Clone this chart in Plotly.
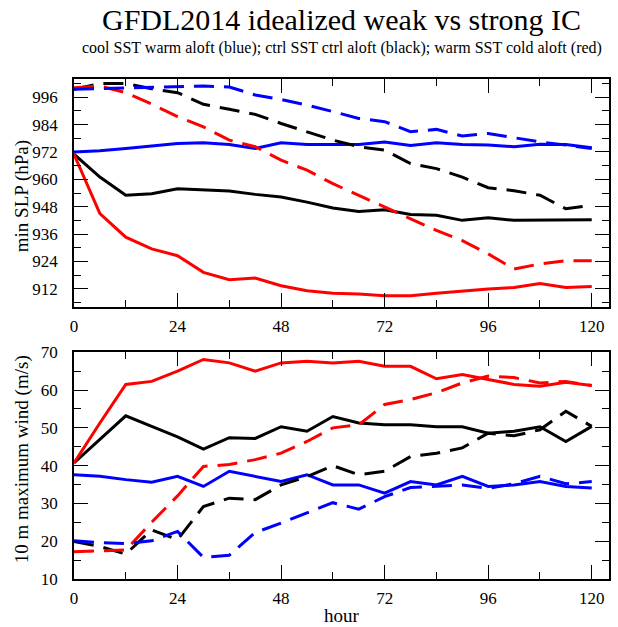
import plotly.graph_objects as go

# Forecast hour (6-hourly output)
hours = [0, 6, 12, 18, 24, 30, 36, 42, 48, 54, 60, 66, 72, 78, 84, 90, 96, 102, 108, 114, 120]

# Minimum sea-level pressure (hPa); solid = weak IC, dashed = strong IC
slp_blue_solid = [972, 972.5, 973.5, 974.6, 975.7, 976, 975.3, 973.5, 976, 975.3, 975.3,
                  975.3, 976.4, 974.8, 976, 975.3, 975, 974.3, 975.4, 975.3, 973.8]
slp_black_solid = [971, 961, 953, 953.7, 955.9, 955.5, 954.9, 953.4, 952.2, 950, 947.4,
                   945.9, 946.6, 944.6, 944.2, 942, 943.1, 942, 942, 942.3, 942.3]
slp_red_solid = [971, 945, 934.6, 929.5, 926.5, 919.2, 916, 916.7, 913.3, 911.1, 910,
                 909.7, 908.9, 908.9, 910, 911.1, 911.9, 912.6, 914.3, 912.6, 913]
slp_blue_dash = [999.5, 999.8, 1000.2, 1000.5, 1000.7, 1000.9, 1000.5, 997, 995, 992.6, 989.7,
                 986.7, 985.3, 980.9, 981.9, 979, 980.1, 978.3, 976.4, 975, 973.5]
slp_black_dash = [999.5, 1002, 1002, 999.7, 998, 992.9, 990.7, 988.5, 984.5, 980.9, 977.2,
                  974.3, 972.8, 966.9, 964.7, 961, 956.3, 955, 953, 947.1, 948.6]
slp_red_dash = [1000.2, 1000.9, 998, 993, 987.5, 983, 977.2, 974.3, 968.4, 964, 958.1,
                953, 947.8, 942.7, 937.6, 933.1, 927.3, 920.7, 922.9, 924.3, 924.3]

# 10 m maximum wind (m/s)
wind_blue_solid = [37.6, 37.2, 36.3, 35.6, 37.2, 34.5, 38.5, 37.2, 35.8, 37.6, 34.9,
                   34.9, 32.7, 35.8, 34.9, 37.2, 34.5, 34.9, 35.8, 34.5, 34.1]
wind_black_solid = [40.7, 46.9, 53.2, 50.4, 47.6, 44.4, 47.4, 47.2, 50.3, 49.1, 53,
                    51.3, 50.8, 50.8, 50.3, 50.3, 48.6, 49.1, 50.3, 46.4, 50.4]
wind_red_solid = [40.7, 51.3, 61.5, 62.3, 65, 68.1, 67.2, 65, 67.2, 67.6, 67.2,
                  67.6, 66.3, 66.3, 63, 64.1, 62.8, 61.5, 61, 62.1, 61.2]
wind_blue_dash = [20.1, 19.6, 19.4, 20.1, 22.6, 15.7, 16.3, 22.3, 24.8, 27.4, 30.2,
                  28.5, 31.8, 34.2, 34.5, 34.9, 34, 35.2, 37.2, 35.2, 35.8]
wind_black_dash = [19.9, 18.6, 16.6, 23, 20.4, 29.2, 31.4, 31, 34.9, 37.1, 40,
                   37.6, 38.5, 42.4, 43.3, 44.7, 48.6, 47.9, 49.5, 54.4, 50.4]
wind_red_dash = [17.2, 17.5, 17.7, 25, 32, 39.8, 40.3, 41.6, 43.3, 46.4, 50,
                 50.8, 56.2, 57.5, 59.3, 61.9, 63.7, 63.3, 61.9, 62.3, 61.2]

x_ticks = [0, 24, 48, 72, 96, 120]
slp_ticks = [912, 924, 936, 948, 960, 972, 984, 996]
wind_ticks = [10, 20, 30, 40, 50, 60, 70]

FONT = "Liberation Serif, Times New Roman, serif"
BLUE, BLACK, RED = "#0000ff", "#000000", "#ff0000"
DASH = "20px,10px"

fig = go.Figure()

series = [
    (slp_blue_solid, BLUE, "solid", "y"), (slp_black_solid, BLACK, "solid", "y"),
    (slp_red_solid, RED, "solid", "y"), (slp_black_dash, BLACK, DASH, "y"),
    (slp_red_dash, RED, DASH, "y"), (slp_blue_dash, BLUE, DASH, "y"),
    (wind_blue_solid, BLUE, "solid", "y2"), (wind_black_solid, BLACK, "solid", "y2"),
    (wind_red_solid, RED, "solid", "y2"), (wind_black_dash, BLACK, DASH, "y2"),
    (wind_red_dash, RED, DASH, "y2"), (wind_blue_dash, BLUE, DASH, "y2"),
]
for vals, col, dash, yax in series:
    fig.add_trace(go.Scatter(
        x=hours, y=vals, mode="lines",
        line=dict(color=col, width=3, dash=dash),
        xaxis="x" if yax == "y" else "x2", yaxis=yax, showlegend=False,
    ))

axis_common = dict(
    showgrid=False, zeroline=False, showline=True, linecolor="black", linewidth=1.6,
    mirror="ticks", ticks="inside", ticklen=14, tickwidth=1.4, tickcolor="black",
    tickfont=dict(family=FONT, size=17, color="black"),
)
minor_common = dict(ticks="inside", ticklen=7, tickwidth=1.4, tickcolor="black", showgrid=False)

xaxis_cfg = dict(axis_common, range=[0, 124], tickvals=x_ticks,
                 minor=dict(minor_common, dtick=12, tick0=0), ticklabelstandoff=3)

label_font = dict(family=FONT, size=19, color="black")

fig.update_layout(
    width=618, height=627,
    margin=dict(l=74, r=7, t=79, b=48),
    paper_bgcolor="white", plot_bgcolor="white",
    xaxis=dict(xaxis_cfg, anchor="y", domain=[0, 1]),
    yaxis=dict(axis_common, anchor="x", domain=[0.544, 1.0], range=[904, 1004],
               tickvals=slp_ticks, minor=dict(minor_common, dtick=6, tick0=0),
               ticklabelstandoff=11),
    xaxis2=dict(xaxis_cfg, anchor="y2", domain=[0, 1]),
    yaxis2=dict(axis_common, anchor="x2", domain=[0.0, 0.4534], range=[10, 70],
                tickvals=wind_ticks, minor=dict(minor_common, dtick=5, tick0=0),
                ticklabelstandoff=11),
    annotations=[
        dict(text="GFDL2014 idealized weak vs strong IC", xref="paper", yref="paper",
             x=0.5, y=1.118, xanchor="center", yanchor="middle", showarrow=False,
             font=dict(family=FONT, size=30, color="black")),
        dict(text="cool SST warm aloft (blue); ctrl SST ctrl aloft (black); warm SST cold aloft (red)",
             xref="paper", yref="paper", x=0.5, y=1.062, xanchor="center", yanchor="middle",
             showarrow=False, font=dict(family=FONT, size=16, color="black")),
        # axis titles
        dict(text="min SLP (hPa)", xref="paper", yref="paper", x=-0.0968, y=0.766,
             xanchor="center", yanchor="middle", textangle=-90, showarrow=False, font=label_font),
        dict(text="10 m maximum wind (m/s)", xref="paper", yref="paper", x=-0.0968, y=0.24,
             xanchor="center", yanchor="middle", textangle=-90, showarrow=False, font=label_font),
        dict(text="hour", xref="paper", yref="paper", x=0.5, y=-0.072,
             xanchor="center", yanchor="middle", showarrow=False, font=label_font),
    ],
)

fig.write_html("out.html")
